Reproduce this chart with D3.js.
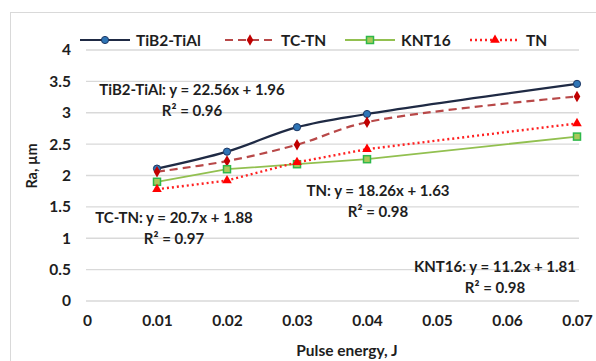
<!DOCTYPE html>
<html><head><meta charset="utf-8">
<script src="https://cdn.jsdelivr.net/npm/d3@7"></script>
<style>body{margin:0;background:#fff;}svg{display:block;font-family:Lato,"Open Sans",sans-serif;font-weight:bold;}</style>
</head><body><svg id="c" width="596" height="361"></svg>
<script>
const energy = [0.01, 0.02, 0.03, 0.04, 0.07];
const tib2TiAl = [2.11, 2.38, 2.77, 2.98, 3.46];
const tcTn = [2.06, 2.23, 2.49, 2.85, 3.26];
const knt16 = [1.90, 2.10, 2.18, 2.26, 2.62];
const tn = [1.78, 1.92, 2.21, 2.42, 2.83];
const xTicks = [0, 0.01, 0.02, 0.03, 0.04, 0.05, 0.06, 0.07];
const yTicks = [0, 0.5, 1, 1.5, 2, 2.5, 3, 3.5, 4];
const seriesNames = ["TiB2-TiAl", "TC-TN", "KNT16", "TN"];
const equations = [
  ["TiB2-TiAl: y = 22.56x + 1.96", "R² = 0.96"],
  ["TC-TN: y = 20.7x + 1.88", "R² = 0.97"],
  ["KNT16: y = 11.2x + 1.81", "R² = 0.98"],
  ["TN: y = 18.26x + 1.63", "R² = 0.98"]
];

const TXT = "#1e1e1e";
const svg = d3.select("#c");
svg.append("rect").attr("x",10.5).attr("y",12.5).attr("width",700).attr("height",500)
  .attr("fill","#fff").attr("stroke","#d9d9d9");

const x = d3.scaleLinear().domain([0,0.07]).range([87,577]);
const y = d3.scaleLinear().domain([0,4]).range([301,50]);

svg.append("g").selectAll("line").data(yTicks).join("line")
  .attr("x1",86).attr("x2",579).attr("y1",d=>y(d)).attr("y2",d=>y(d))
  .attr("stroke","#d9d9d9").attr("stroke-width",1.3);

const yAxis = svg.append("g").attr("transform","translate(77,0)")
  .call(d3.axisLeft(y).tickValues(yTicks).tickSize(0).tickPadding(6).tickFormat(d3.format("")));
yAxis.select(".domain").remove();
yAxis.selectAll("text").attr("font-size",15.5).attr("font-family","Lato").attr("font-weight","bold").attr("fill",TXT);

const xAxis = svg.append("g").attr("transform","translate(0,309)")
  .call(d3.axisBottom(x).tickValues(xTicks).tickSize(0).tickPadding(6).tickFormat(d=>d===0?"0":d3.format(".2f")(d)));
xAxis.select(".domain").remove();
xAxis.selectAll("text").attr("font-size",15.5).attr("font-family","Lato").attr("font-weight","bold").attr("fill",TXT);

svg.append("text").attr("transform","translate(37,166) rotate(-90)").attr("text-anchor","middle")
  .attr("font-size",14.5).attr("fill",TXT).text("Ra, µm");
svg.append("text").attr("x",347).attr("y",356).attr("text-anchor","middle")
  .attr("font-size",15.5).attr("fill",TXT).text("Pulse energy, J");

const data = [tib2TiAl, tcTn, knt16, tn];
const styles = [
  {stroke:"#1f2a44", width:2.2, dash:null, curve:d3.curveCatmullRom.alpha(0.5), marker:"circle", mfill:"#2e75b6", mstroke:"#1f3864"},
  {stroke:"#b84848", width:2.2, dash:"8,5", curve:d3.curveCatmullRom.alpha(0.5), marker:"diamond", mfill:"#c00000", mstroke:"#c00000"},
  {stroke:"#92c050", width:1.8, dash:null, curve:d3.curveLinear, marker:"square", mfill:"#a9c95a", mstroke:"#2eb84a"},
  {stroke:"#ff2020", width:2.4, dash:"2,3", curve:d3.curveLinear, marker:"triangle", mfill:"#ff0000", mstroke:"#ff0000"}
];

function drawMarker(g, type, cx, cy, st){
  if(type==="circle"){
    g.append("circle").attr("cx",cx).attr("cy",cy).attr("r",3.6).attr("fill",st.mfill).attr("stroke",st.mstroke).attr("stroke-width",1);
  } else if(type==="diamond"){
    g.append("path").attr("d",d3.symbol(d3.symbolDiamond,38)()).attr("transform",`translate(${cx},${cy})`).attr("fill",st.mfill);
  } else if(type==="square"){
    g.append("rect").attr("x",cx-3.5).attr("y",cy-3.5).attr("width",7).attr("height",7).attr("fill",st.mfill).attr("stroke",st.mstroke).attr("stroke-width",1.5);
  } else {
    g.append("path").attr("d",d3.symbol(d3.symbolTriangle,40)()).attr("transform",`translate(${cx},${cy})`).attr("fill",st.mfill);
  }
}

data.forEach((vals,i)=>{
  const st = styles[i];
  const pts = energy.map((e,j)=>[e,vals[j]]);
  const line = d3.line().x(d=>x(d[0])).y(d=>y(d[1])).curve(st.curve);
  svg.append("path").datum(pts).attr("d",line).attr("fill","none").attr("stroke",st.stroke)
    .attr("stroke-width",st.width).attr("stroke-dasharray",st.dash);
  const g = svg.append("g");
  pts.forEach(p=>drawMarker(g, st.marker, x(p[0]), y(p[1]), st));
});

const legX = [80, 225, 345, 470];
seriesNames.forEach((n,i)=>{
  const st = styles[i];
  const ly = 40;
  svg.append("line").attr("x1",legX[i]).attr("x2",legX[i]+50).attr("y1",ly).attr("y2",ly)
    .attr("stroke",st.stroke).attr("stroke-width",st.width).attr("stroke-dasharray",st.dash);
  drawMarker(svg.append("g"), st.marker, legX[i]+25, ly, st);
  svg.append("text").attr("x",legX[i]+56).attr("y",ly+5.5).attr("font-size",15.5).attr("fill",TXT).text(n);
});

const eqPos = [[192,95],[174,223],[495,272],[378,196]];
equations.forEach((eq,i)=>{
  const [cx,cy] = eqPos[i];
  svg.append("text").attr("x",cx).attr("y",cy).attr("text-anchor","middle").attr("font-size",15).attr("fill",TXT).text(eq[0]);
  svg.append("text").attr("x",cx).attr("y",cy+21).attr("text-anchor","middle").attr("font-size",15).attr("fill",TXT).text(eq[1]);
});
</script></body></html>
